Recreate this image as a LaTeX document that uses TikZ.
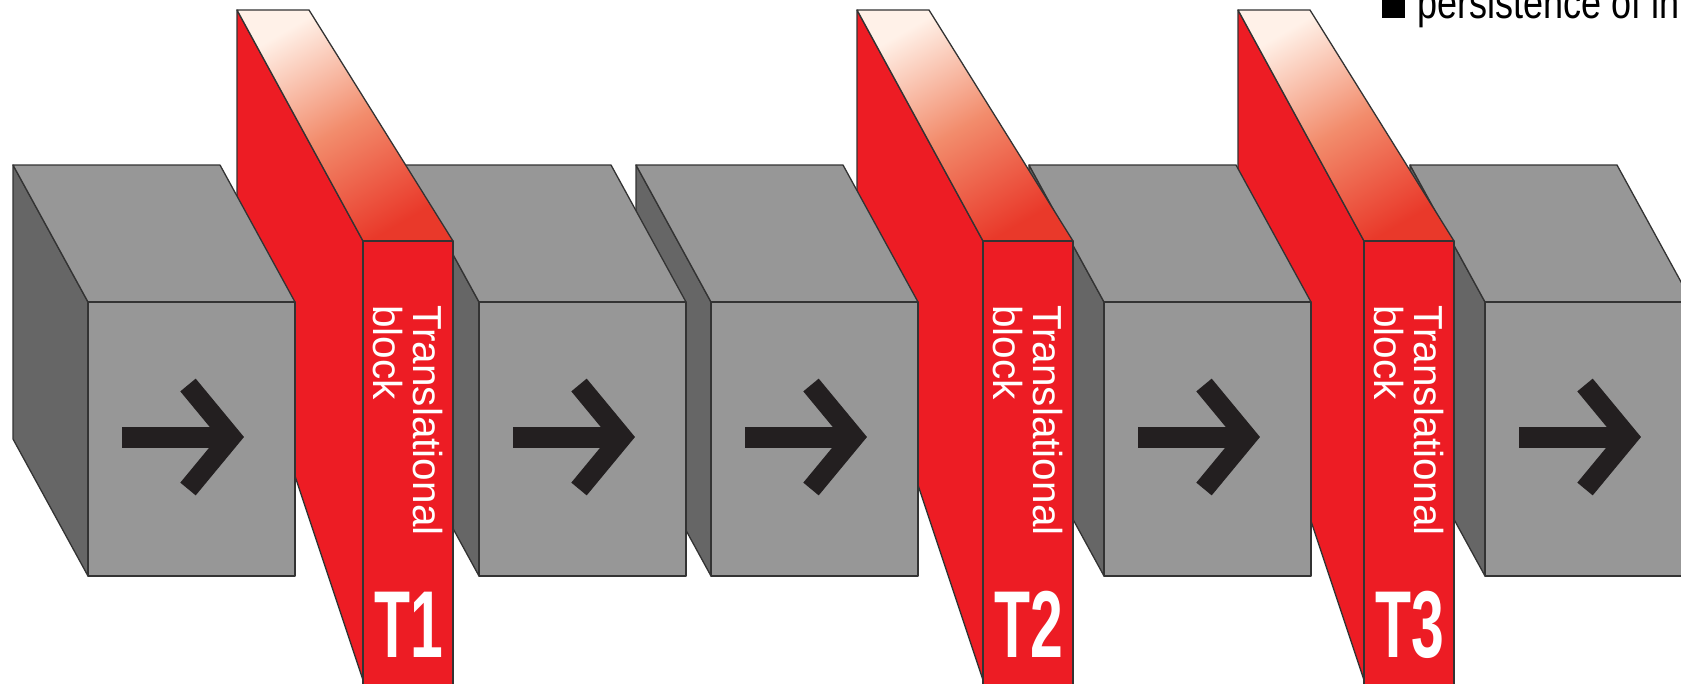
\documentclass[tikz,border=0pt]{standalone}
\usepackage{fontspec}
\setmainfont{Liberation Sans}
\newfontfamily\numfont[FakeStretch=0.62]{Liberation Sans}
\newfontfamily\legendfont[FakeStretch=0.8]{Liberation Sans}

\definecolor{blockred}{HTML}{ED1C24}
\definecolor{facegray}{HTML}{979797}
\definecolor{sidegray}{HTML}{666666}
\definecolor{edgegray}{HTML}{333333}
\definecolor{arrowblk}{HTML}{231F20}
\definecolor{toplight}{HTML}{FFF1E8}
\definecolor{topmid}{HTML}{F28C6C}
\definecolor{topdark}{HTML}{E9392A}

\tikzset{
  face/.style={draw=edgegray,line width=1.3pt,line join=round},
  flow/.style={draw=arrowblk,line width=21pt,line cap=butt,line join=miter},
  tlabel/.style={text=white,rotate=-90,align=left,inner sep=0pt,
    font=\fontsize{40.5}{40}\selectfont},
  tnum/.style={text=white,inner sep=0pt,font=\numfont\bfseries\fontsize{95}{95}\selectfont},
  legend/.style={inner sep=0pt,font=\legendfont\fontsize{45}{45}\selectfont},
  % grey block with its arrow, origin at the top left of the front face
  pics/cubeblk/.style={code={
    \filldraw[face,fill=sidegray] (-75,-137) -- (0,0) -- (0,274) -- (-75,137) -- cycle;
    \filldraw[face,fill=facegray] (-75,-137) -- (132,-137) -- (207,0) -- (0,0) -- cycle;
    \filldraw[face,fill=facegray] (0,0) rectangle (207,274);
    \draw[flow] (34,135) -- (135,135);
    \draw[flow,line width=20pt] (100,83) -- (143,135) -- (100,187);
  }},
  % red translational block, origin at the top left of the front face
  pics/tblock/.style={code={
    \filldraw[face,fill=blockred] (-126,-231) -- (0,0) -- (0,439) -- (-126,61) -- cycle;
    \shade[face,top color=toplight,bottom color=topdark,middle color=topmid,
      shading angle=30] (-126,-231) -- (-54,-231) -- (90,0) -- (0,0) -- cycle;
    \filldraw[face,fill=blockred] (0,0) rectangle (90,460);
    \node[tlabel,anchor=north west] (-txt) at (80,64) {Translational\\block};
    \node[tnum,anchor=base west] (-num) at (11,416) {#1};
  }}
}

\begin{document}
\begin{tikzpicture}[x=1pt,y=-1pt]
  \useasboundingbox (0,0) rectangle (1681,683);
  \clip (0,0) rectangle (1681,683);

  % drawn from right to left, so the left parts lie in front
  \pic (b5) at (1485,302) {cubeblk};
  \pic (t3) at (1364,241) {tblock=T3};
  \pic (b4) at (1104,302) {cubeblk};
  \pic (t2) at (983,241) {tblock=T2};
  \pic (b3) at (711,302) {cubeblk};
  \pic (b2) at (479,302) {cubeblk};
  \pic (t1) at (363,241) {tblock=T1};
  \pic (b1) at (88,302) {cubeblk};

  \node[fill=black,minimum size=23pt,inner sep=0pt,anchor=south west] (legsq) at (1382,18) {};
  \node[legend,anchor=base west] (legtxt) at (1417,18) {persistence of in};
\end{tikzpicture}
\end{document}
